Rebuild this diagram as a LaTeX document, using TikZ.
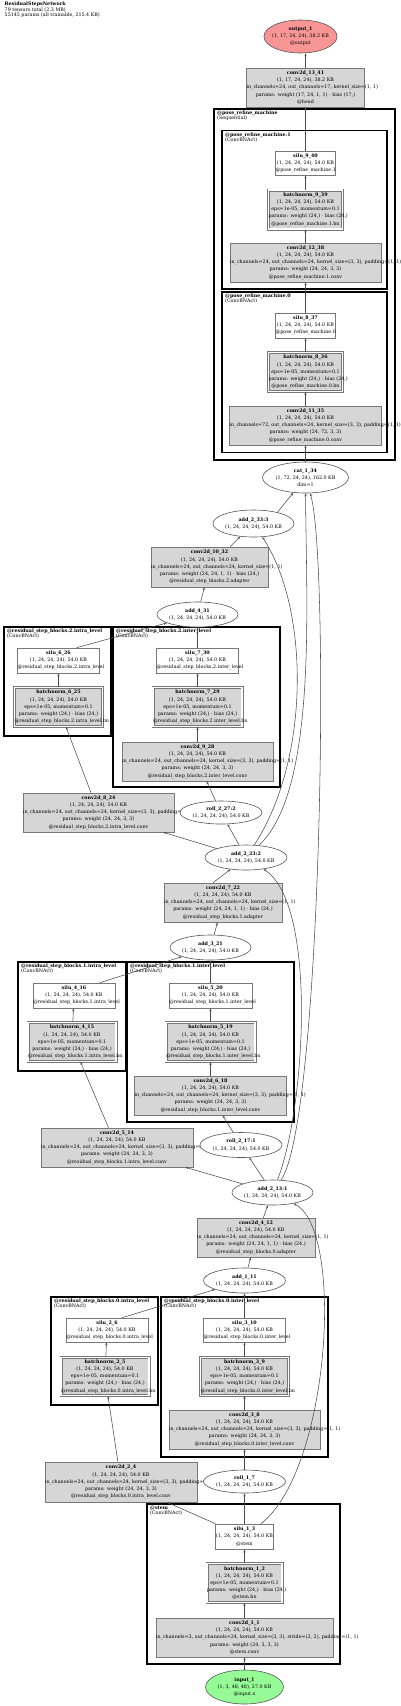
\documentclass[tikz,border=0pt]{standalone}
\usepackage{fontspec}
\setmainfont{DejaVu Serif}
\usepackage{tikz}
\usetikzlibrary{shapes.geometric, arrows.meta}
\definecolor{outred}{RGB}{248,150,150}
\definecolor{ingreen}{RGB}{150,250,150}
\definecolor{opgray}{RGB}{214,214,214}
\definecolor{linegray}{RGB}{120,120,120}
\definecolor{ellgray}{RGB}{85,85,85}
\tikzset{
  opbox/.style 2 args={rectangle, draw=linegray, line width=0.6pt, fill=opgray, minimum width=#1pt, text width=#1pt, minimum height=#2pt, inner xsep=0pt, inner ysep=1pt, align=center},
  actbox/.style 2 args={opbox={#1}{#2}, fill=white},
  normbox/.style 2 args={opbox={#1}{#2}, line width=0.8pt, double=white, double distance=1.4pt},
  tensor/.style 2 args={ellipse, draw=ellgray, line width=0.6pt, fill=white, minimum width=#1pt, minimum height=#2pt, inner sep=0pt, align=center},
  cluster/.style={draw=black, line width=1.4pt},
  clabel/.style={anchor=north west, inner sep=0pt, align=left, font=\fontsize{4.8}{5.6}\selectfont},
  flow/.style={-{Stealth[length=3pt, width=2.2pt]}, draw=black!70, line width=0.55pt},
}

\begin{document}
\begin{tikzpicture}[x=1pt, y=-1pt, font=\fontsize{4.8}{7.2}\selectfont]
  \useasboundingbox (0,0) rectangle (400,1706);

  % Title
  \node[anchor=north west, inner sep=0pt, align=left, font=\fontsize{4.8}{5.3}\selectfont] (title) at (4.5,2) {\textbf{ResidualStepsNetwork}\\79 tensors total (2.3 MB)\\55145 params (all trainable, 215.4 KB)};

  % Clusters
  \draw[cluster] (214,109) rectangle (395,460);
  \node[clabel] (lblpose) at (217,110.5) {\textbf{@pose\_refine\_machine}\\(Sequential)};
  \draw[cluster] (222,130.7) rectangle (387,289);
  \node[clabel] (lblposeone) at (225,132.2) {\textbf{@pose\_refine\_machine.1}\\(ConvBNAct)};
  \draw[cluster] (222,292) rectangle (387,452.7);
  \node[clabel] (lblposezero) at (225,293.5) {\textbf{@pose\_refine\_machine.0}\\(ConvBNAct)};
  \draw[cluster] (4,627) rectangle (111,736);
  \node[clabel] (lblintratwo) at (7,628.5) {\textbf{@residual\_step\_blocks.2.intra\_level}\\(ConvBNAct)};
  \draw[cluster] (113,627) rectangle (280,787);
  \node[clabel] (lblintertwo) at (116,628.5) {\textbf{@residual\_step\_blocks.2.inter\_level}\\(ConvBNAct)};
  \draw[cluster] (18,962) rectangle (126,1071);
  \node[clabel] (lblintraone) at (21,963.5) {\textbf{@residual\_step\_blocks.1.intra\_level}\\(ConvBNAct)};
  \draw[cluster] (127,962) rectangle (294,1122);
  \node[clabel] (lblinterone) at (130,963.5) {\textbf{@residual\_step\_blocks.1.inter\_level}\\(ConvBNAct)};
  \draw[cluster] (51,1297) rectangle (158,1405);
  \node[clabel] (lblintrazero) at (54,1298.5) {\textbf{@residual\_step\_blocks.0.intra\_level}\\(ConvBNAct)};
  \draw[cluster] (161,1297) rectangle (328,1457);
  \node[clabel] (lblinterzero) at (164,1298.5) {\textbf{@residual\_step\_blocks.0.inter\_level}\\(ConvBNAct)};
  \draw[cluster] (147,1504) rectangle (340,1664);
  \node[clabel] (lblstem) at (150,1505.5) {\textbf{@stem}\\(ConvBNAct)};

  % Nodes: head and pose refinement
  \node[tensor={73}{33}, fill=outred, inner xsep=-2.5pt] (output) at (300.5,36.5) {\textbf{output\_1}\\(1, 17, 24, 24), 38.2 KB\\@output};
  \node[opbox={118}{39}] (conv13) at (305.5,87.5) {\textbf{conv2d\_13\_41}\\\mbox{(1, 17, 24, 24), 38.2 KB}\\\mbox{in\_channels=24, out\_channels=17, kernel\_size=(1, 1)}\\\mbox{params: weight (17, 24, 1, 1) · bias (17,)}\\@head};
  \node[actbox={60}{24}] (silu9) at (305.5,163) {\textbf{silu\_9\_40}\\\mbox{(1, 24, 24, 24), 54.0 KB}\\\mbox{@pose\_refine\_machine.1}};
  \node[normbox={74}{39}] (bn9) at (305.5,209.5) {\textbf{batchnorm\_9\_39}\\\mbox{(1, 24, 24, 24), 54.0 KB}\\\mbox{eps=1e-05, momentum=0.1}\\\mbox{params: weight (24,) · bias (24,)}\\\mbox{@pose\_refine\_machine.1.bn}};
  \node[opbox={151}{39}] (conv12) at (305.5,262.5) {\textbf{conv2d\_12\_38}\\\mbox{(1, 24, 24, 24), 54.0 KB}\\\mbox{in\_channels=24, out\_channels=24, kernel\_size=(3, 3), padding=(1, 1)}\\\mbox{params: weight (24, 24, 3, 3)}\\\mbox{@pose\_refine\_machine.1.conv}};
  \node[actbox={60}{25}] (silu8) at (305.5,325.5) {\textbf{silu\_8\_37}\\\mbox{(1, 24, 24, 24), 54.0 KB}\\\mbox{@pose\_refine\_machine.0}};
  \node[normbox={74}{39}] (bn8) at (305.5,372) {\textbf{batchnorm\_8\_36}\\\mbox{(1, 24, 24, 24), 54.0 KB}\\\mbox{eps=1e-05, momentum=0.1}\\\mbox{params: weight (24,) · bias (24,)}\\\mbox{@pose\_refine\_machine.0.bn}};
  \node[opbox={152}{39}] (conv11) at (305.5,425.5) {\textbf{conv2d\_11\_35}\\\mbox{(1, 24, 24, 24), 54.0 KB}\\\mbox{in\_channels=72, out\_channels=24, kernel\_size=(3, 3), padding=(1, 1)}\\\mbox{params: weight (24, 72, 3, 3)}\\\mbox{@pose\_refine\_machine.0.conv}};
  \node[tensor={86}{31}] (cat) at (305.5,477.5) {\textbf{cat\_1\_34}\\(1, 72, 24, 24), 162.0 KB\\dim=1};

  % Nodes: residual step block 2
  \node[tensor={81}{27}] (add33) at (253.5,523.5) {\textbf{add\_2\_33:3}\\(1, 24, 24, 24), 54.0 KB};
  \node[opbox={117}{40}] (conv10) at (209.5,567) {\textbf{conv2d\_10\_32}\\\mbox{(1, 24, 24, 24), 54.0 KB}\\\mbox{in\_channels=24, out\_channels=24, kernel\_size=(1, 1)}\\\mbox{params: weight (24, 24, 1, 1) · bias (24,)}\\\mbox{@residual\_step\_blocks.2.adapter}};
  \node[tensor={81}{25}] (add4) at (197.5,614.5) {\textbf{add\_4\_31}\\(1, 24, 24, 24), 54.0 KB};
  \node[actbox={82}{25}] (silu6) at (58.5,660.5) {\textbf{silu\_6\_26}\\\mbox{(1, 24, 24, 24), 54.0 KB}\\\mbox{@residual\_step\_blocks.2.intra\_level}};
  \node[normbox={88}{39}] (bn6) at (58.5,707) {\textbf{batchnorm\_6\_25}\\\mbox{(1, 24, 24, 24), 54.0 KB}\\\mbox{eps=1e-05, momentum=0.1}\\\mbox{params: weight (24,) · bias (24,)}\\\mbox{@residual\_step\_blocks.2.intra\_level.bn}};
  \node[actbox={82}{25}] (silu7) at (197.5,660.5) {\textbf{silu\_7\_30}\\\mbox{(1, 24, 24, 24), 54.0 KB}\\\mbox{@residual\_step\_blocks.2.inter\_level}};
  \node[normbox={89}{39}] (bn7) at (197.5,707) {\textbf{batchnorm\_7\_29}\\\mbox{(1, 24, 24, 24), 54.0 KB}\\\mbox{eps=1e-05, momentum=0.1}\\\mbox{params: weight (24,) · bias (24,)}\\\mbox{@residual\_step\_blocks.2.inter\_level.bn}};
  \node[opbox={151}{39}] (conv9) at (197.5,761.5) {\textbf{conv2d\_9\_28}\\\mbox{(1, 24, 24, 24), 54.0 KB}\\\mbox{in\_channels=24, out\_channels=24, kernel\_size=(3, 3), padding=(1, 1)}\\\mbox{params: weight (24, 24, 3, 3)}\\\mbox{@residual\_step\_blocks.2.inter\_level.conv}};
  \node[opbox={151}{39}] (conv8) at (98.5,812.5) {\textbf{conv2d\_8\_24}\\\mbox{(1, 24, 24, 24), 54.0 KB}\\\mbox{in\_channels=24, out\_channels=24, kernel\_size=(3, 3), padding=(1, 1)}\\\mbox{params: weight (24, 24, 3, 3)}\\\mbox{@residual\_step\_blocks.2.intra\_level.conv}};
  \node[tensor={82}{23}] (roll27) at (221,812.5) {\textbf{roll\_2\_27:2}\\(1, 24, 24, 24), 54.0 KB};

  % Nodes: residual step block 1
  \node[tensor={82}{25}] (add23) at (246,857.5) {\textbf{add\_2\_23:2}\\(1, 24, 24, 24), 54.0 KB};
  \node[opbox={118}{39}] (conv7) at (223,902.5) {\textbf{conv2d\_7\_22}\\\mbox{(1, 24, 24, 24), 54.0 KB}\\\mbox{in\_channels=24, out\_channels=24, kernel\_size=(1, 1)}\\\mbox{params: weight (24, 24, 1, 1) · bias (24,)}\\\mbox{@residual\_step\_blocks.1.adapter}};
  \node[tensor={81}{25}] (add3) at (210.5,947.5) {\textbf{add\_3\_21}\\(1, 24, 24, 24), 54.0 KB};
  \node[actbox={82}{25}] (silu4) at (74,995.5) {\textbf{silu\_4\_16}\\\mbox{(1, 24, 24, 24), 54.0 KB}\\\mbox{@residual\_step\_blocks.1.intra\_level}};
  \node[normbox={88}{39}] (bn4) at (72,1042) {\textbf{batchnorm\_4\_15}\\\mbox{(1, 24, 24, 24), 54.0 KB}\\\mbox{eps=1e-05, momentum=0.1}\\\mbox{params: weight (24,) · bias (24,)}\\\mbox{@residual\_step\_blocks.1.intra\_level.bn}};
  \node[actbox={83}{25}] (silu5) at (210.5,995.5) {\textbf{silu\_5\_20}\\\mbox{(1, 24, 24, 24), 54.0 KB}\\\mbox{@residual\_step\_blocks.1.inter\_level}};
  \node[normbox={89}{39}] (bn5) at (210.5,1042) {\textbf{batchnorm\_5\_19}\\\mbox{(1, 24, 24, 24), 54.0 KB}\\\mbox{eps=1e-05, momentum=0.1}\\\mbox{params: weight (24,) · bias (24,)}\\\mbox{@residual\_step\_blocks.1.inter\_level.bn}};
  \node[opbox={152}{39}] (conv6) at (210.5,1095.5) {\textbf{conv2d\_6\_18}\\\mbox{(1, 24, 24, 24), 54.0 KB}\\\mbox{in\_channels=24, out\_channels=24, kernel\_size=(3, 3), padding=(1, 1)}\\\mbox{params: weight (24, 24, 3, 3)}\\\mbox{@residual\_step\_blocks.1.inter\_level.conv}};
  \node[opbox={152}{39}] (conv5) at (117,1147.5) {\textbf{conv2d\_5\_14}\\\mbox{(1, 24, 24, 24), 54.0 KB}\\\mbox{in\_channels=24, out\_channels=24, kernel\_size=(3, 3), padding=(1, 1)}\\\mbox{params: weight (24, 24, 3, 3)}\\\mbox{@residual\_step\_blocks.1.intra\_level.conv}};
  \node[tensor={82}{25}] (roll17) at (241,1145) {\textbf{roll\_2\_17:1}\\(1, 24, 24, 24), 54.0 KB};

  % Nodes: residual step block 0
  \node[tensor={81}{25}] (add13) at (272.5,1192.5) {\textbf{add\_2\_13:1}\\(1, 24, 24, 24), 54.0 KB};
  \node[opbox={118}{39}] (conv4) at (256,1237.5) {\textbf{conv2d\_4\_12}\\\mbox{(1, 24, 24, 24), 54.0 KB}\\\mbox{in\_channels=24, out\_channels=24, kernel\_size=(1, 1)}\\\mbox{params: weight (24, 24, 1, 1) · bias (24,)}\\\mbox{@residual\_step\_blocks.0.adapter}};
  \node[tensor={82}{25}] (add1) at (244.5,1280.5) {\textbf{add\_1\_11}\\(1, 24, 24, 24), 54.0 KB};
  \node[actbox={82}{24}] (silu2) at (107,1330) {\textbf{silu\_2\_6}\\\mbox{(1, 24, 24, 24), 54.0 KB}\\\mbox{@residual\_step\_blocks.0.intra\_level}};
  \node[normbox={88}{38}] (bn2) at (105,1376.5) {\textbf{batchnorm\_2\_5}\\\mbox{(1, 24, 24, 24), 54.0 KB}\\\mbox{eps=1e-05, momentum=0.1}\\\mbox{params: weight (24,) · bias (24,)}\\\mbox{@residual\_step\_blocks.0.intra\_level.bn}};
  \node[actbox={82}{24}] (silu3) at (244.5,1330) {\textbf{silu\_3\_10}\\\mbox{(1, 24, 24, 24), 54.0 KB}\\\mbox{@residual\_step\_blocks.0.inter\_level}};
  \node[normbox={88}{38}] (bn3) at (244.5,1376.5) {\textbf{batchnorm\_3\_9}\\\mbox{(1, 24, 24, 24), 54.0 KB}\\\mbox{eps=1e-05, momentum=0.1}\\\mbox{params: weight (24,) · bias (24,)}\\\mbox{@residual\_step\_blocks.0.inter\_level.bn}};
  \node[opbox={151}{39}] (conv3) at (244.5,1429.5) {\textbf{conv2d\_3\_8}\\\mbox{(1, 24, 24, 24), 54.0 KB}\\\mbox{in\_channels=24, out\_channels=24, kernel\_size=(3, 3), padding=(1, 1)}\\\mbox{params: weight (24, 24, 3, 3)}\\\mbox{@residual\_step\_blocks.0.inter\_level.conv}};
  \node[opbox={152}{40}] (conv2) at (121,1482) {\textbf{conv2d\_2\_4}\\\mbox{(1, 24, 24, 24), 54.0 KB}\\\mbox{in\_channels=24, out\_channels=24, kernel\_size=(3, 3), padding=(1, 1)}\\\mbox{params: weight (24, 24, 3, 3)}\\\mbox{@residual\_step\_blocks.0.intra\_level.conv}};
  \node[tensor={82}{23}] (roll7) at (244.5,1481.5) {\textbf{roll\_1\_7}\\(1, 24, 24, 24), 54.0 KB};

  % Nodes: stem and input
  \node[actbox={58}{25}] (silu1) at (244.5,1536.5) {\textbf{silu\_1\_3}\\\mbox{(1, 24, 24, 24), 54.0 KB}\\@stem};
  \node[normbox={75}{39}] (bn1) at (244.5,1583) {\textbf{batchnorm\_1\_2}\\\mbox{(1, 24, 24, 24), 54.0 KB}\\\mbox{eps=1e-05, momentum=0.1}\\\mbox{params: weight (24,) · bias (24,)}\\@stem.bn};
  \node[opbox={177}{39}] (conv1) at (244.5,1637.5) {\textbf{conv2d\_1\_1}\\\mbox{(1, 24, 24, 24), 54.0 KB}\\\mbox{in\_channels=3, out\_channels=24, kernel\_size=(3, 3), stride=(2, 2), padding=(1, 1)}\\\mbox{params: weight (24, 3, 3, 3)}\\@stem.conv};
  \node[tensor={78}{34}, fill=ingreen] (input) at (244.5,1687) {\textbf{input\_1}\\(1, 3, 48, 48), 27.0 KB\\@input.x};

  % Arrows: stem
  \draw[flow] (input) -- (conv1);
  \draw[flow] (conv1) -- (bn1);
  \draw[flow] (bn1) -- (silu1);
  \draw[flow] (silu1) -- (roll7);
  \draw[flow] (silu1) -- (conv2);
  \draw[flow] (silu1) .. controls (330,1470) and (345,1230) .. (add13);

  % Arrows: block 0
  \draw[flow] (roll7) -- (conv3);
  \draw[flow] (conv3) -- (bn3);
  \draw[flow] (bn3) -- (silu3);
  \draw[flow] (silu3) -- (add1);
  \draw[flow] (conv2) -- (bn2);
  \draw[flow] (bn2) -- (silu2);
  \draw[flow] ([xshift=15pt]silu2.north) -- (add1);
  \draw[flow] (add1) -- (conv4);
  \draw[flow] (conv4) -- (add13);

  % Arrows: block 1
  \draw[flow] (add13) -- (roll17);
  \draw[flow] (add13) -- (conv5);
  \draw[flow] (add13) .. controls (305,1110) and (318,905) .. (add23);
  \draw[flow] (add13) .. controls (322,1120) and (330,560) .. (cat);
  \draw[flow] (roll17) -- (conv6);
  \draw[flow] (conv6) -- (bn5);
  \draw[flow] (bn5) -- (silu5);
  \draw[flow] (silu5) -- (add3);
  \draw[flow] (conv5) -- (bn4);
  \draw[flow] (bn4) -- (silu4);
  \draw[flow] ([xshift=26pt]silu4.north) -- (add3);
  \draw[flow] (add3) -- (conv7);
  \draw[flow] ([xshift=-10pt]conv7.north) -- (add23);

  % Arrows: block 2
  \draw[flow] (add23) -- (roll27);
  \draw[flow] (add23) -- (conv8);
  \draw[flow] (add23) .. controls (310,760) and (310,610) .. (add33);
  \draw[flow] (add23) .. controls (318,790) and (306,600) .. (cat);
  \draw[flow] (roll27) -- (conv9);
  \draw[flow] (conv9) -- (bn7);
  \draw[flow] (bn7) -- (silu7);
  \draw[flow] (silu7) -- (add4);
  \draw[flow] (conv8) -- (bn6);
  \draw[flow] (bn6) -- (silu6);
  \draw[flow] ([xshift=18pt]silu6.north) -- (add4);
  \draw[flow] (add4) -- (conv10);
  \draw[flow] (conv10) -- (add33);
  \draw[flow] (add33.25) -- (cat);

  % Arrows: pose refinement and head
  \draw[flow] (cat) -- (conv11);
  \draw[flow] (conv11) -- (bn8);
  \draw[flow] (bn8) -- (silu8);
  \draw[flow] (silu8) -- (conv12);
  \draw[flow] (conv12) -- (bn9);
  \draw[flow] (bn9) -- (silu9);
  \draw[flow] (silu9) -- (conv13);
  \draw[flow] (conv13) -- (conv13 |- output.south);
\end{tikzpicture}
\end{document}
